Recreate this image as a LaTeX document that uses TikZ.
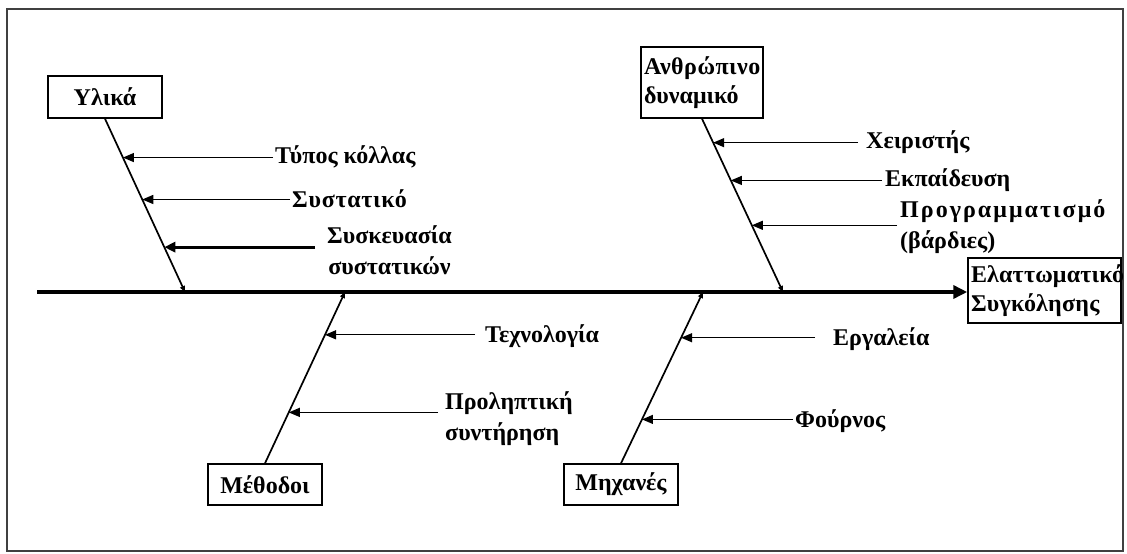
\documentclass[tikz,border=0pt]{standalone}
\usepackage{fontspec}
\setmainfont{Liberation Serif}
\usetikzlibrary{arrows.meta,calc}
\newcommand{\ls}[2]{{\addfontfeature{LetterSpace=#1}#2}}
\begin{document}
\begin{tikzpicture}[x=1pt,y=-1pt,
  catbox/.style={draw, line width=1.5pt, inner xsep=4pt, inner ysep=0pt,
    font=\fontsize{24}{29}\selectfont\bfseries, align=center},
  lbl/.style={anchor=west, inner sep=0pt, font=\fontsize{24}{31}\selectfont\bfseries},
  branch/.style={line width=1.3pt, -{Triangle[length=11pt,width=9pt]}},
  thickbranch/.style={line width=3pt, -{Triangle[length=11pt,width=10pt]}},
  bone/.style={line width=1.7pt, -{Triangle[length=6pt,width=5pt]}},
  spine/.style={line width=3.5pt, -{Triangle[length=14pt,width=13pt]}}]
\useasboundingbox (0,0) rectangle (1127,554);
\draw[black!75, line width=1.5pt] (7,9) rectangle (1123,551);

% category boxes
\node[catbox, minimum width=114pt, minimum height=42pt] (U) at (105,97) {Υλικά};
\node[catbox, text width=116pt, inner xsep=3pt, align=left, minimum height=71pt] (A) at (702,82.5) {\ls{2}{Ανθρώπινο}\\δυναμικό};
\node[catbox, minimum width=114pt, minimum height=41pt] (M) at (265,484.5) {Μέθοδοι};
\node[catbox, minimum width=114pt, minimum height=41pt] (H) at (621,484.5) {Μηχανές};
\node[catbox, text width=147pt, inner xsep=3pt, align=left, minimum height=65pt] (E) at (1044.5,290.5) {\ls{0.8}{Ελαττωματικό}\\\ls{1}{Συγκόλησης}};

% spine
\coordinate (S0) at (37,292);
\draw[spine] (S0) -- (E.west |- S0);

% bone ends on spine
\coordinate (sU) at (185,292);
\coordinate (sA) at (783,292);
\coordinate (sM) at (345,292);
\coordinate (sH) at (703,292);
\draw[bone] (U.south) -- (sU);
\draw[bone] (A.south) -- (sA);
\draw[bone] (M.north) -- (sM);
\draw[bone] (H.north) -- (sH);

% labels
\node[lbl] (u1) at (275,157) {Τύπος κόλλας};
\node[lbl] (u2) at (292,199) {\ls{3}{Συστατικό}};
\node[lbl, align=center] (u3) at (327,250) {Συσκευασία\\συστατικών};
\node[lbl] (a1) at (866,142) {Χειριστής};
\node[lbl] (a2) at (885,180) {Εκπαίδευση};
\node[lbl, align=left] (a3) at (900,227) {\ls{8.5}{Προγραμματισμό}\\(βάρδιες)};
\node[lbl] (m1) at (485,336) {Τεχνολογία};
\node[lbl, align=left] (m2) at (445,419) {Προληπτική\\συντήρηση};
\node[lbl] (h1) at (833,339) {Εργαλεία};
\node[lbl] (h2) at (795,421) {Φούρνος};

% arrow tips on bones
\coordinate (tu1) at ($(U.south)!0.224!(sU)$);
\coordinate (tu2) at ($(U.south)!0.466!(sU)$);
\coordinate (tu3) at ($(U.south)!0.741!(sU)$);
\coordinate (ta1) at ($(A.south)!0.138!(sA)$);
\coordinate (ta2) at ($(A.south)!0.356!(sA)$);
\coordinate (ta3) at ($(A.south)!0.615!(sA)$);
\coordinate (tm1) at ($(M.north)!0.75!(sM)$);
\coordinate (tm2) at ($(M.north)!0.297!(sM)$);
\coordinate (th1) at ($(H.north)!0.733!(sH)$);
\coordinate (th2) at ($(H.north)!0.256!(sH)$);

\draw[branch] ([xshift=-2pt]u1.west |- tu1) -- (tu1);
\draw[branch] ([xshift=-2pt]u2.west |- tu2) -- (tu2);
\draw[thickbranch] ([xshift=-12pt]u3.west |- tu3) -- (tu3);
\draw[branch] ([xshift=-8pt]a1.west |- ta1) -- (ta1);
\draw[branch] ([xshift=-3pt]a2.west |- ta2) -- (ta2);
\draw[branch] ([xshift=-3pt]a3.west |- ta3) -- (ta3);
\draw[branch] ([xshift=-10pt]m1.west |- tm1) -- (tm1);
\draw[branch] ([xshift=-7pt]m2.west |- tm2) -- (tm2);
\draw[branch] ([xshift=-18pt]h1.west |- th1) -- (th1);
\draw[branch] ([xshift=-2pt]h2.west |- th2) -- (th2);
\end{tikzpicture}
\end{document}
